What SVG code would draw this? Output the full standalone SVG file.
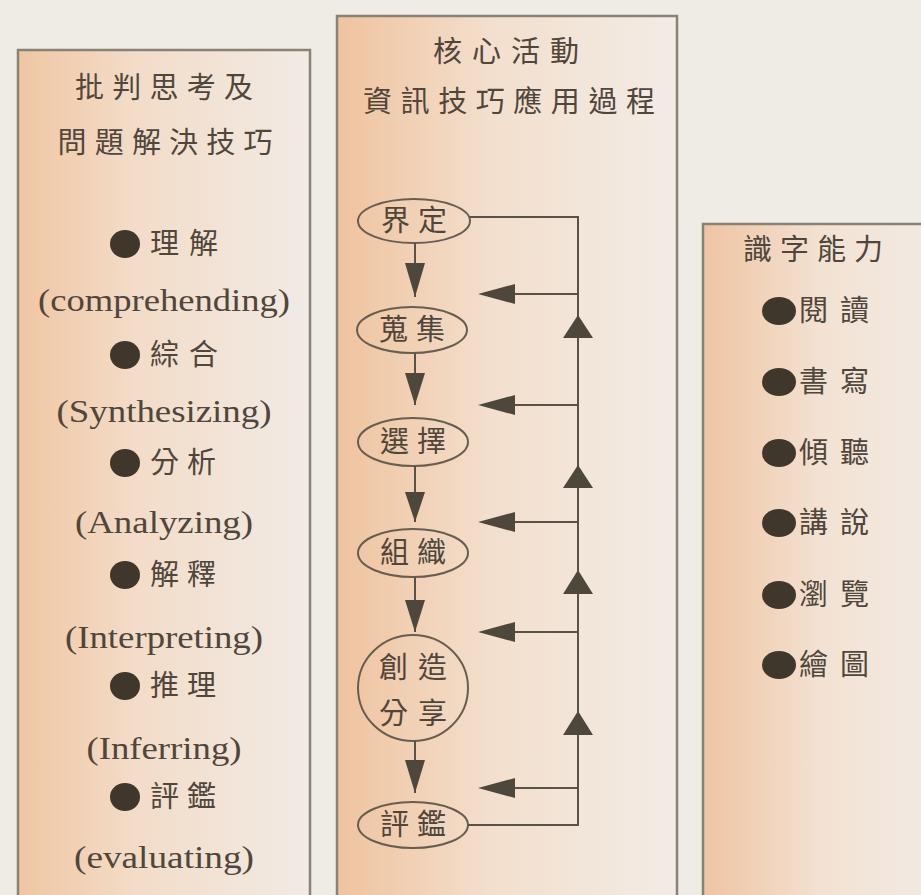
<svg xmlns="http://www.w3.org/2000/svg" width="921" height="895" viewBox="0 0 921 895">
<defs>
<linearGradient id="panelL" x1="0" y1="0" x2="1" y2="0">
<stop offset="0" stop-color="#f0c6a2"/>
<stop offset="0.4" stop-color="#f3dcc8"/>
<stop offset="1" stop-color="#f1ebe5"/>
</linearGradient>
<linearGradient id="panelC" x1="0" y1="0" x2="1" y2="0">
<stop offset="0" stop-color="#efc39e"/>
<stop offset="0.45" stop-color="#f3dfcd"/>
<stop offset="1" stop-color="#f2ece6"/>
</linearGradient>
<linearGradient id="panelR" x1="0" y1="0" x2="1" y2="0">
<stop offset="0" stop-color="#efc4a2"/>
<stop offset="0.5" stop-color="#f3e2d3"/>
<stop offset="1" stop-color="#f1ebe5"/>
</linearGradient>
</defs>
<style>
.panel{stroke:#8a8275;stroke-width:2.5}
.cjk{font-family:"Liberation Serif","Noto Sans CJK TC",serif;font-size:29px;fill:#4f463c;dominant-baseline:central}
.lat{font-family:"Liberation Serif",serif;font-size:31px;fill:#4f463c;dominant-baseline:central}
.dot{fill:#3f372c}
.node{fill:none;stroke:#675e52;stroke-width:2}
.line{fill:none;stroke:#5a5246;stroke-width:2}
.head{fill:#4e473c}
</style>
<rect x="0" y="0" width="921" height="895" fill="#efebe5"/>

<g id="panel-critical">
<rect class="panel" x="18" y="50" width="292" height="860" fill="url(#panelL)"/>
<text class="cjk" x="164" y="88" text-anchor="middle" textLength="178">批判思考及</text>
<text class="cjk" x="165" y="143" text-anchor="middle" textLength="215">問題解決技巧</text>
<ellipse class="dot" cx="125" cy="244" rx="15" ry="14"/>
<text class="cjk" x="150" y="244" textLength="68">理解</text>
<text class="lat" x="164" y="300" text-anchor="middle" textLength="252" lengthAdjust="spacingAndGlyphs">(comprehending)</text>
<ellipse class="dot" cx="125" cy="355" rx="15" ry="14"/>
<text class="cjk" x="150" y="355" textLength="68">綜合</text>
<text class="lat" x="164" y="411" text-anchor="middle" textLength="215" lengthAdjust="spacingAndGlyphs">(Synthesizing)</text>
<ellipse class="dot" cx="125" cy="463" rx="15" ry="14"/>
<text class="cjk" x="150" y="463" textLength="66">分析</text>
<text class="lat" x="164" y="522" text-anchor="middle" textLength="178" lengthAdjust="spacingAndGlyphs">(Analyzing)</text>
<ellipse class="dot" cx="125" cy="575" rx="15" ry="14"/>
<text class="cjk" x="150" y="575" textLength="66">解釋</text>
<text class="lat" x="164" y="637" text-anchor="middle" textLength="198" lengthAdjust="spacingAndGlyphs">(Interpreting)</text>
<ellipse class="dot" cx="125" cy="686" rx="15" ry="14"/>
<text class="cjk" x="150" y="686" textLength="66">推理</text>
<text class="lat" x="164" y="748" text-anchor="middle" textLength="155" lengthAdjust="spacingAndGlyphs">(Inferring)</text>
<ellipse class="dot" cx="125" cy="797" rx="15" ry="14"/>
<text class="cjk" x="150" y="797" textLength="66">評鑑</text>
<text class="lat" x="164" y="857" text-anchor="middle" textLength="180" lengthAdjust="spacingAndGlyphs">(evaluating)</text>
</g>

<g id="panel-core">
<rect class="panel" x="337" y="16" width="340" height="900" fill="url(#panelC)"/>
<text class="cjk" x="506" y="52" text-anchor="middle" textLength="146">核心活動</text>
<text class="cjk" x="509" y="102" text-anchor="middle" textLength="292">資訊技巧應用過程</text>
</g>

<g id="node-define">
<ellipse class="node" cx="414" cy="221" rx="56" ry="22"/>
<text class="cjk" x="414" y="221" text-anchor="middle" textLength="66">界定</text>
</g>
<g id="node-collect">
<ellipse class="node" cx="412" cy="330" rx="55" ry="23"/>
<text class="cjk" x="412" y="330" text-anchor="middle" textLength="66">蒐集</text>
</g>
<g id="node-select">
<ellipse class="node" cx="413" cy="442" rx="55" ry="24"/>
<text class="cjk" x="413" y="442" text-anchor="middle" textLength="66">選擇</text>
</g>
<g id="node-organize">
<ellipse class="node" cx="413" cy="553" rx="55" ry="24"/>
<text class="cjk" x="413" y="553" text-anchor="middle" textLength="66">組織</text>
</g>
<g id="node-create">
<ellipse class="node" cx="413" cy="688" rx="55" ry="53"/>
<text class="cjk" x="413" y="668" text-anchor="middle" textLength="68">創造</text>
<text class="cjk" x="413" y="714" text-anchor="middle" textLength="68">分享</text>
</g>
<g id="node-evaluate">
<ellipse class="node" cx="413" cy="825" rx="55" ry="23"/>
<text class="cjk" x="413" y="825" text-anchor="middle" textLength="66">評鑑</text>
</g>

<g id="connectors">
<path class="line" d="M470,217 H578 V825 H468"/>
<path class="line" d="M415,243 V297 M415,353 V405 M415,466 V522 M415,577 V632 M415,741 V793"/>
<path class="head" d="M405,263 L425,263 L415,297 Z"/>
<path class="head" d="M405,373 L425,373 L415,405 Z"/>
<path class="head" d="M405,492 L425,492 L415,522 Z"/>
<path class="head" d="M405,600 L425,600 L415,632 Z"/>
<path class="head" d="M405,760 L425,760 L415,793 Z"/>
<path class="line" d="M578,294 H500 M578,405 H500 M578,522 H500 M578,632 H500 M578,788 H500"/>
<path class="head" d="M478,294 L515,284 L515,304 Z"/>
<path class="head" d="M478,405 L515,395 L515,415 Z"/>
<path class="head" d="M478,522 L515,512 L515,532 Z"/>
<path class="head" d="M478,632 L515,622 L515,642 Z"/>
<path class="head" d="M478,788 L515,778 L515,798 Z"/>
<path class="head" d="M578,315 L593,338 L563,338 Z"/>
<path class="head" d="M578,465 L593,488 L563,488 Z"/>
<path class="head" d="M578,570 L593,594 L563,594 Z"/>
<path class="head" d="M578,711 L593,735 L563,735 Z"/>
</g>

<g id="panel-literacy">
<rect class="panel" x="703" y="224" width="240" height="700" fill="url(#panelR)"/>
<text class="cjk" x="813" y="250" text-anchor="middle" textLength="140">識字能力</text>
<ellipse class="dot" cx="779" cy="311" rx="17" ry="14"/>
<text class="cjk" x="799" y="311" textLength="70">閱讀</text>
<ellipse class="dot" cx="779" cy="382" rx="17" ry="14"/>
<text class="cjk" x="799" y="382" textLength="70">書寫</text>
<ellipse class="dot" cx="779" cy="453" rx="17" ry="14"/>
<text class="cjk" x="799" y="453" textLength="70">傾聽</text>
<ellipse class="dot" cx="779" cy="523" rx="17" ry="14"/>
<text class="cjk" x="799" y="523" textLength="70">講說</text>
<ellipse class="dot" cx="779" cy="595" rx="17" ry="14"/>
<text class="cjk" x="799" y="595" textLength="70">瀏覽</text>
<ellipse class="dot" cx="779" cy="665" rx="17" ry="14"/>
<text class="cjk" x="799" y="665" textLength="70">繪圖</text>
</g>
</svg>
